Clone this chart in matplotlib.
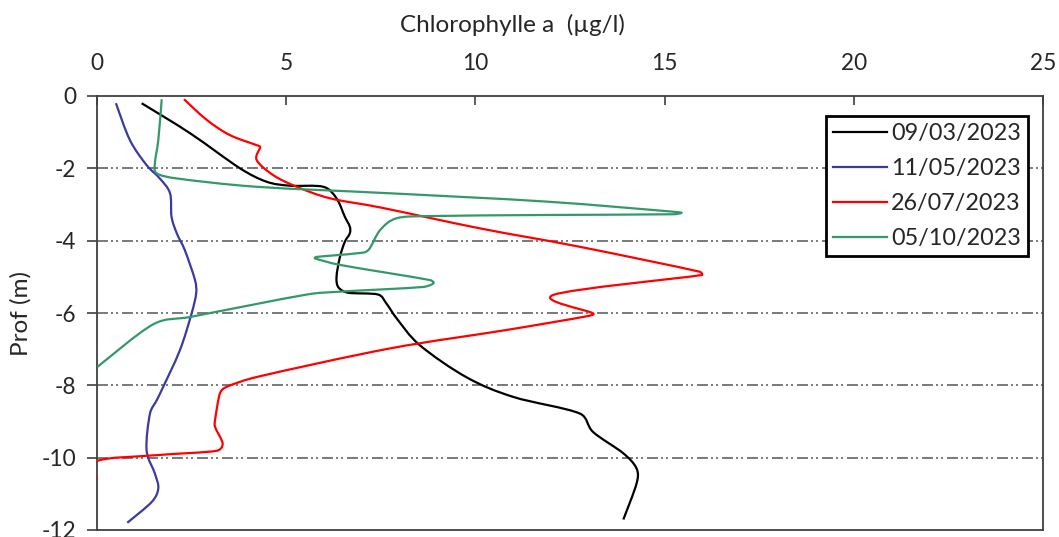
import matplotlib
matplotlib.use("Agg")
import matplotlib.pyplot as plt
from matplotlib.path import Path
from matplotlib.patches import PathPatch
from matplotlib.lines import Line2D
import numpy as np

plt.rcParams['font.family'] = ['Lato', 'DejaVu Sans']
plt.rcParams['lines.scale_dashes'] = False

# Vertical chlorophyll-a profiles (µg/l) against depth (m)
mar_chl = [1.18, 2.46, 3.78, 4.48, 5.10, 5.98, 6.33, 6.55, 6.68, 6.68, 6.55, 6.42, 6.33, 6.38, 6.64,
           7.43, 7.65, 7.92, 8.53, 9.77, 11.00, 12.76, 13.11, 13.91, 14.26, 14.26, 13.91]
mar_depth = [-0.20, -1.03, -2.00, -2.37, -2.48, -2.51, -2.83, -3.34, -3.61, -3.80, -4.03, -4.45, -5.00, -5.29, -5.44,
             -5.49, -5.74, -6.15, -6.89, -7.78, -8.32, -8.78, -9.29, -9.88, -10.30, -10.71, -11.71]

may_chl = [0.50, 0.87, 1.31, 1.66, 1.93, 1.97, 2.11, 2.32, 2.59, 2.62, 2.50, 2.19, 1.71, 1.58, 1.40,
           1.31, 1.53, 1.62, 1.45, 0.80]
may_depth = [-0.20, -1.22, -1.91, -2.28, -2.69, -3.34, -3.80, -4.26, -5.09, -5.46, -6.01, -7.03, -8.13, -8.41, -8.78,
             -9.79, -10.44, -10.85, -11.22, -11.80]

jul_chl = [2.30, 2.90, 3.51, 4.22, 4.31, 4.22, 4.66, 5.28, 6.16, 7.48, 10.12, 12.76, 15.93, 15.98, 12.06,
           13.11, 12.94, 10.82, 7.74, 4.22, 3.43, 3.25, 3.12, 3.12, 3.32, 3.16, 1.58, 0.01, 0.0]
jul_depth = [-0.09, -0.66, -1.08, -1.36, -1.42, -1.77, -2.19, -2.51, -2.83, -3.08, -3.66, -4.17, -4.86, -4.95, -5.50,
             -6.01, -6.09, -6.47, -6.98, -7.77, -8.04, -8.22, -8.96, -9.15, -9.61, -9.81, -9.93, -10.09, -10.60]

oct_chl = [1.71, 1.62, 1.53, 1.58, 2.11, 4.22, 7.74, 11.88, 15.23, 15.45, 15.23, 11.88, 8.80, 7.92, 7.48,
           7.17, 6.86, 5.80, 5.76, 6.42, 8.80, 8.89, 8.62, 6.42, 5.54, 2.46, 1.49, 0.01]
oct_depth = [-0.09, -1.22, -1.86, -2.14, -2.28, -2.51, -2.69, -2.92, -3.20, -3.23, -3.27, -3.29, -3.32, -3.38, -3.71,
             -4.26, -4.35, -4.45, -4.49, -4.67, -5.09, -5.18, -5.28, -5.41, -5.49, -6.11, -6.31, -7.49]

dates = ['09/03/2023', '11/05/2023', '26/07/2023', '05/10/2023']
colors = ['#000000', '#3A3AA0', '#FF0000', '#33996A']

x_ticks = [0, 5, 10, 15, 20, 25]
y_ticks = [0, -2, -4, -6, -8, -10, -12]


def smooth_path(xs, ys, k=0.4):
    """Smoothed-line path: cubic Bezier segments through every sample.

    Tangents follow Catmull-Rom; each handle is capped at k times its segment
    length so short segments at sharp turns do not overshoot.
    """
    p = np.column_stack([xs, ys]).astype(float)
    n = len(p)
    verts = [p[0]]
    codes = [Path.MOVETO]

    def cap(d, seg):
        L = np.hypot(*d)
        lim = k * np.hypot(*seg)
        return d * (lim / L) if L > lim and L > 0 else d

    for i in range(n - 1):
        p0 = p[i - 1] if i > 0 else p[i]
        p1, p2 = p[i], p[i + 1]
        p3 = p[i + 2] if i + 2 < n else p[i + 1]
        c1 = p1 + cap((p2 - p0) / 6.0, p2 - p1)
        c2 = p2 - cap((p3 - p1) / 6.0, p2 - p1)
        verts += [c1, c2, p2]
        codes += [Path.CURVE4] * 3
    return Path(verts, codes)


W, H = 1059, 537
fig = plt.figure(figsize=(W / 100, H / 100), dpi=100)
ax = fig.add_axes([97 / W, 1 - 530 / H, (1043 - 97) / W, (530 - 96) / H])

series = [(mar_chl, mar_depth), (may_chl, may_depth), (jul_chl, jul_depth), (oct_chl, oct_depth)]
handles = []
for (xv, yv), c, lab in zip(series, colors, dates):
    patch = PathPatch(smooth_path(xv, yv), facecolor='none', edgecolor=c, lw=1.6,
                      joinstyle='round', capstyle='butt', zorder=3)
    ax.add_patch(patch)
    handles.append(Line2D([], [], color=c, lw=1.6, label=lab))

ax.set_xlim(0, 25)
ax.set_ylim(-12, 0)
ax.set_xticks(x_ticks)
ax.set_yticks(y_ticks)
ax.set_yticklabels([str(v) for v in y_ticks])

ax.xaxis.tick_top()
ax.tick_params(axis='x', direction='in', length=6.5, width=1.2, color='#404040',
               labelsize=16.3, pad=16, labelcolor='#262626')
ax.tick_params(axis='y', direction='out', length=7, width=1.2, color='#404040',
               labelsize=16.3, pad=8, labelcolor='#262626')
for s in ax.spines.values():
    s.set_color('#404040')
    s.set_linewidth(1.3)

for v in y_ticks[1:-1]:
    ax.axhline(v, color='#555555', lw=1.1, dashes=(7.9, 2.2, 1.4, 2.2, 1.4, 2.9), zorder=1)

fig.text(512 / W, 1 - 25 / H, 'Chlorophylle a  (µg/l)', ha='center', va='center',
         fontsize=17.5, color='#262626')
fig.text(21 / W, 1 - 313 / H, 'Prof (m)', ha='center', va='center', rotation=90,
         fontsize=17.5, color='#262626')

leg = ax.legend(handles=handles, loc='upper left',
                bbox_to_anchor=((826 - 97) / 946, 1 - (116 - 96) / 434),
                fontsize=16.8, frameon=True, fancybox=False, framealpha=1, edgecolor='black',
                borderpad=0.3, labelspacing=0.6, handlelength=2.3, handletextpad=0.2,
                borderaxespad=0)
leg.get_frame().set_linewidth(2.0)
for t in leg.get_texts():
    t.set_color('#262626')

fig.savefig('out.png', dpi=100)
